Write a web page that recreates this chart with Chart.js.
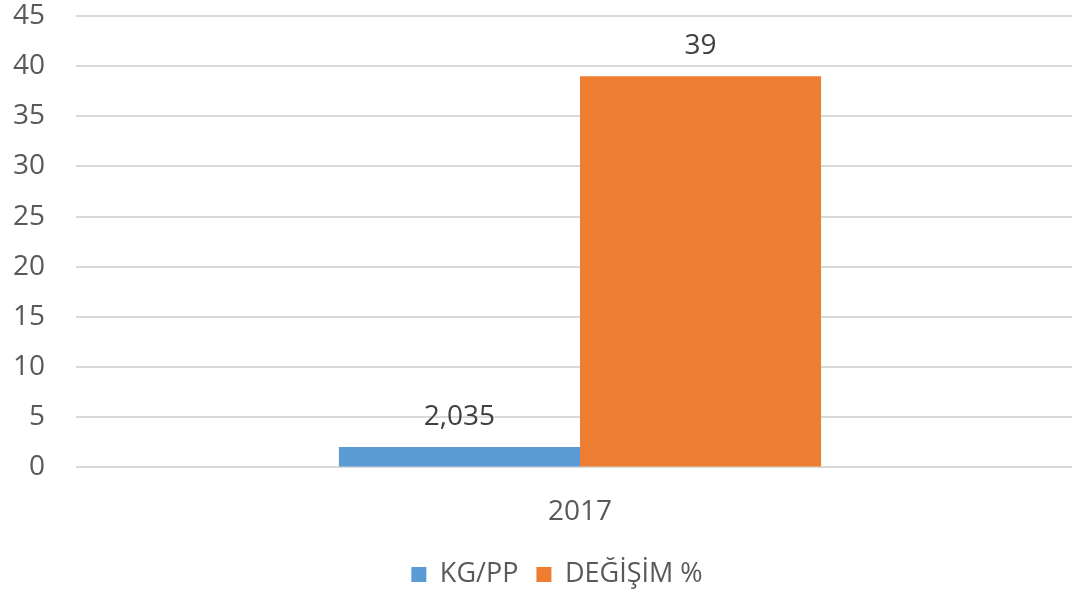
<!DOCTYPE html>
<html>
<head>
<meta charset="utf-8">
<script src="https://cdn.jsdelivr.net/npm/chart.js@4/dist/chart.umd.min.js"></script>
<style>
  html, body { margin: 0; padding: 0; background: #fff; }
  #wrap { width: 1072px; height: 589px; }
</style>
</head>
<body>
<div id="wrap"><canvas id="myChart"></canvas></div>
<script>
const categories = ["2017"];
const kgPP = [2.035];
const degisim = [39];
const seriesNames = ["KG/PP", "DEĞİŞİM %"];

const fontFamily = "'Open Sans', 'Liberation Sans', sans-serif";

// draws the value above each bar, Turkish decimal comma
const valueLabels = {
  id: "valueLabels",
  afterDatasetsDraw(chart) {
    const c = chart.ctx;
    c.save();
    c.font = "28px " + fontFamily;
    c.fillStyle = "#404040";
    c.textAlign = "center";
    c.textBaseline = "middle";
    chart.data.datasets.forEach((ds, i) => {
      chart.getDatasetMeta(i).data.forEach((bar, j) => {
        const txt = String(ds.data[j]).replace(".", ",");
        c.fillText(txt, bar.x, bar.y - 30);
      });
    });
    c.restore();
  }
};

// legend in the original sits a bit right of the canvas centre
const shiftLegend = {
  id: "shiftLegend",
  afterLayout(chart) {
    chart.legend.left += 16;
    chart.legend.right += 16;
  }
};

const ctx = document.getElementById("myChart");

new Chart(ctx, {
  type: "bar",
  data: {
    labels: categories,
    datasets: [
      {
        label: seriesNames[0],
        data: kgPP,
        backgroundColor: "#5B9BD5",
        categoryPercentage: 0.49,
        barPercentage: 1,
      },
      {
        label: seriesNames[1],
        data: degisim,
        backgroundColor: "#ED7D31",
        categoryPercentage: 0.49,
        barPercentage: 1,
      },
    ],
  },
  options: {
    responsive: true,
    maintainAspectRatio: false,
    animation: false,
    layout: { padding: { top: 0, right: 0, left: 10, bottom: -9 } },
    plugins: {
      tooltip: { enabled: false },
      legend: {
        position: "bottom",
        labels: {
          color: "#595959",
          font: { family: fontFamily, size: 27 },
          boxWidth: 15,
          boxHeight: 15,
          padding: 4,
          generateLabels(chart) {
            const items = Chart.defaults.plugins.legend.labels.generateLabels(chart);
            items[0].text = items[0].text + "  ";
            return items;
          },
        },
      },
    },
    scales: {
      x: {
        grid: { display: false, drawTicks: false },
        border: { display: true, color: "#d9d9d9", width: 2 },
        ticks: {
          color: "#595959",
          font: { family: fontFamily, size: 28 },
          padding: 28,
        },
      },
      y: {
        min: 0,
        max: 45,
        // ticks extend the grid lines 12px left of the plot area
        grid: { color: "#d9d9d9", lineWidth: 2, drawTicks: true, tickLength: 12 },
        border: { display: false },
        afterFit(scale) {
          scale.width = 78;
          scale.paddingTop = 16;
        },
        ticks: {
          stepSize: 5,
          color: "#595959",
          font: { family: fontFamily, size: 28 },
          padding: 31,
        },
      },
    },
  },
  plugins: [valueLabels, shiftLegend],
});
</script>
</body>
</html>
